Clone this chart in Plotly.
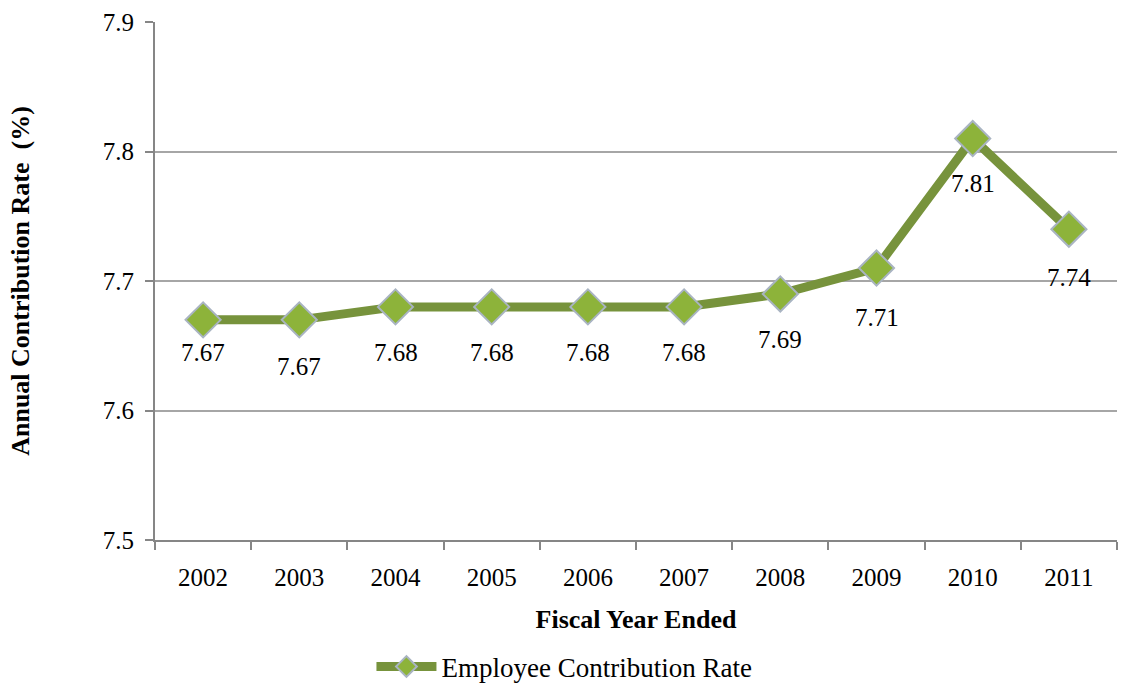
import plotly.graph_objects as go

# Employee contribution rate by fiscal year
years = [2002, 2003, 2004, 2005, 2006, 2007, 2008, 2009, 2010, 2011]
rates = [7.67, 7.67, 7.68, 7.68, 7.68, 7.68, 7.69, 7.71, 7.81, 7.74]
series_name = "Employee Contribution Rate"
y_ticks = [7.5, 7.6, 7.7, 7.8, 7.9]

# label vertical offsets below each point (px)
label_shift = [-33, -47, -46, -46, -46, -46, -46, -49, -45, -48]

FONT = "Liberation Serif"
LINE_GREEN = "#77933C"
FILL_GREEN = "#8DB33A"
GRID = "#A6A6A6"
AXIS = "#868686"

fig = go.Figure()
fig.add_trace(go.Scatter(
    x=years, y=rates, mode="lines+markers", name=series_name,
    line=dict(color=LINE_GREEN, width=9),
    marker=dict(symbol="diamond", size=27, color=FILL_GREEN,
                line=dict(color="#A9B4C2", width=2)),
))

for yr, v, dy in zip(years, rates, label_shift):
    fig.add_annotation(x=yr, y=v, text=f"{v:.2f}", showarrow=False,
                       yshift=dy, font=dict(family=FONT, size=25, color="#000"))

fig.update_layout(
    width=1121, height=684,
    margin=dict(l=155, r=4, t=22, b=144, autoexpand=False),
    paper_bgcolor="white", plot_bgcolor="white",
    font=dict(family=FONT, size=25, color="#000"),
    showlegend=True,
    legend=dict(orientation="h", x=0.225, xanchor="left",
                yref="container", y=0.025, yanchor="middle",
                itemwidth=60, font=dict(family=FONT, size=27)),
    xaxis=dict(
        range=[min(years) - 0.5, max(years) + 0.5], automargin=False,
        tickvals=years, ticktext=[str(y) for y in years],
        showgrid=False, showline=True, linecolor=AXIS, linewidth=2,
        ticks="", ticklabelstandoff=14, zeroline=False,
        minor=dict(tick0=min(years) - 0.5, dtick=1, ticks="outside", ticklen=8,
                   tickcolor=AXIS, tickwidth=2, showgrid=False),
        title=dict(text="<b>Fiscal Year Ended</b>", font=dict(family=FONT, size=26), standoff=20),
    ),
    yaxis=dict(
        range=[7.5, 7.9], tickvals=y_ticks, ticktext=[f"{t:.1f}" for t in y_ticks],
        automargin=False,
        showgrid=True, gridcolor=GRID, gridwidth=2,
        showline=True, linecolor=AXIS, linewidth=2,
        ticks="outside", ticklen=8, tickcolor=AXIS, tickwidth=2,
        ticklabelstandoff=6, zeroline=False,
        title=dict(text="<b>Annual Contribution Rate  (%)</b>", font=dict(family=FONT, size=26), standoff=66),
    ),
)

fig.write_html("out.html")
